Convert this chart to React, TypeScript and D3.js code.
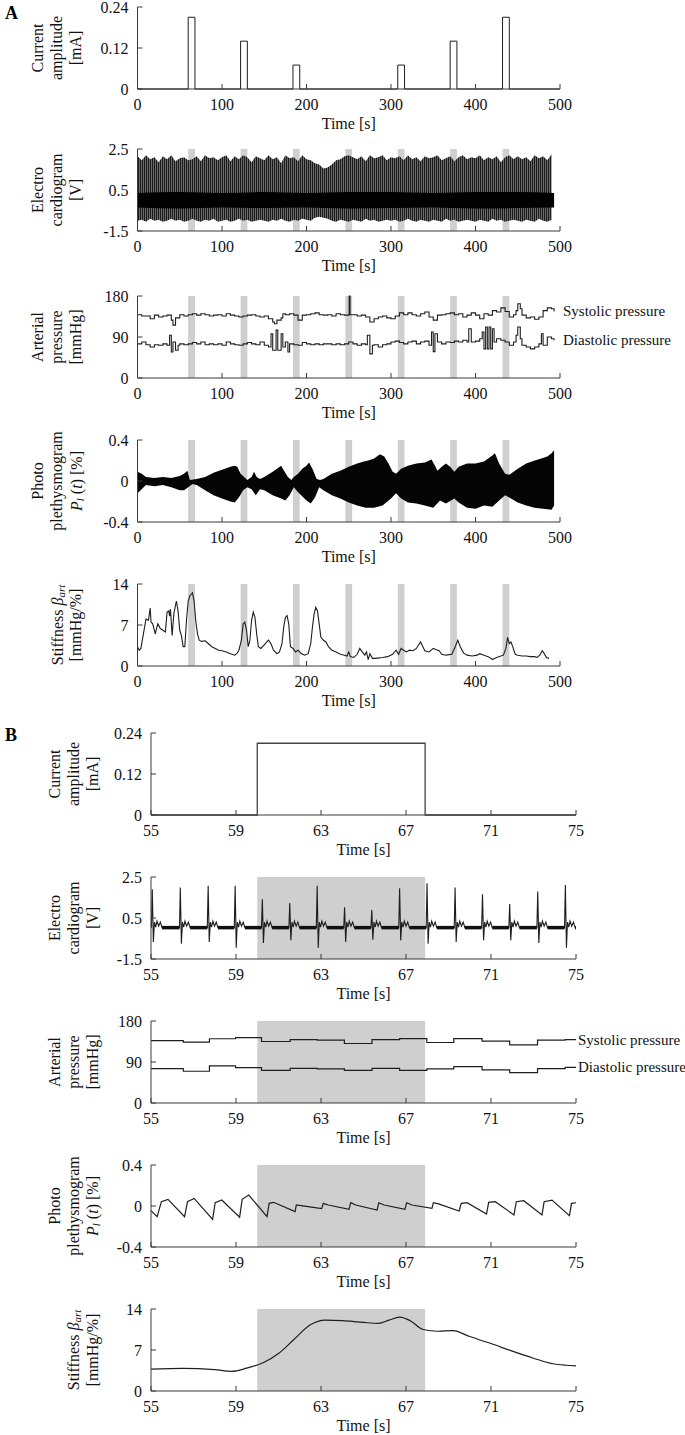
import React from "react";
import * as d3 from "d3";

// ---------- DATA ----------
// Panel A: stimulation protocol
const stimStart = [60, 122, 184, 246, 308, 370, 432];
const stimDur = 8;
const stimAmp = [0.21, 0.14, 0.07, 0, 0.07, 0.14, 0.21];

// Panel A: ECG envelope (5 s grid, 0..490 s)
const ecgEnvT = d3.range(0, 491, 5);
const ecgTop = [
  2.15, 1.95, 2.2, 2.0, 2.1, 1.85, 2.15, 2.0, 2.2, 1.9,
  2.05, 2.1, 1.95, 2.0, 2.15, 1.9, 2.2, 2.05, 2.1, 1.95,
  2.1, 2.2, 1.9, 2.15, 2.0, 2.2, 2.1, 1.85, 2.15, 2.05,
  1.95, 2.2, 2.0, 2.1, 1.8, 2.2, 2.05, 2.1, 1.9, 2.2,
  2.0, 1.95, 1.8, 1.75, 1.55, 1.6, 1.75, 1.95, 2.0, 2.15,
  2.2, 2.1, 2.0, 2.15, 1.9, 2.2, 2.05, 2.1, 2.2, 1.95,
  2.1, 2.05, 2.15, 1.95, 2.2, 2.0, 2.1, 1.9, 2.15, 2.05,
  2.1, 2.2, 1.95, 2.05, 2.15, 1.9, 2.1, 2.2, 2.0, 2.1,
  2.05, 2.2, 1.95, 2.1, 2.0, 2.15, 1.85, 2.1, 2.2, 2.0,
  2.15, 2.0, 2.1, 1.9, 2.2, 2.05, 2.15, 1.95, 2.25,
];
const ecgBot = [
  -1.0, -0.95, -1.05, -0.9, -1.0, -0.95, -1.05, -1.0, -0.9, -1.0,
  -0.95, -1.05, -1.0, -0.9, -1.0, -1.05, -0.95, -1.0, -0.9, -1.05,
  -1.0, -0.95, -1.05, -1.0, -0.9, -1.0, -0.95, -1.05, -1.0, -0.95,
  -1.0, -1.05, -0.95, -1.0, -0.9, -1.0, -1.05, -0.95, -1.0, -0.9,
  -0.95, -1.0, -0.85, -0.8, -0.85, -0.9, -1.0, -1.05, -0.95, -1.0,
  -1.05, -0.95, -1.0, -1.05, -0.9, -1.0, -0.95, -1.05, -1.0, -0.95,
  -1.0, -0.95, -1.05, -1.0, -0.9, -1.0, -1.05, -0.95, -1.0, -1.05,
  -0.95, -1.0, -1.05, -0.9, -1.0, -0.95, -1.05, -1.0, -0.95, -1.0,
  -1.05, -0.95, -1.0, -1.05, -0.9, -1.0, -0.95, -1.05, -1.0, -0.95,
  -1.0, -1.05, -0.95, -1.0, -1.05, -0.9, -1.0, -1.05, -0.95,
];
const ecgCoreT = [0, 50, 100, 150, 200, 250, 300, 350, 400, 450, 493];
const ecgCoreTop = [0.35, 0.4, 0.35, 0.4, 0.35, 0.4, 0.4, 0.35, 0.4, 0.4, 0.35];
const ecgCoreBot = [-0.35, -0.4, -0.35, -0.38, -0.35, -0.4, -0.38, -0.35, -0.4, -0.38, -0.35];

// Panel A: arterial pressure
const sysT = [0, 5, 10, 15, 20, 25, 30, 35, 40, 42, 45, 50, 55, 60, 65, 70, 75, 80, 85, 90, 95, 100, 105, 110, 115, 120, 125, 130, 135, 140, 145, 150, 155, 160, 162, 165, 170, 172, 175, 180, 185, 190, 195, 200, 205, 210, 215, 220, 225, 230, 235, 240, 245, 250, 250.5, 251.5, 255, 260, 265, 270, 275, 280, 285, 290, 295, 300, 305, 310, 315, 320, 325, 330, 335, 340, 345, 350, 355, 360, 365, 370, 375, 380, 385, 390, 395, 400, 405, 410, 415, 420, 425, 430, 435, 440, 445, 448, 450, 453, 455, 460, 465, 470, 475, 480, 485, 490, 493];
const sysV = [139, 136, 136, 130, 138, 134, 136, 138, 127, 116, 132, 139, 136, 139, 141, 138, 141, 139, 136, 138, 139, 136, 141, 138, 136, 134, 136, 138, 139, 136, 134, 136, 130, 123, 119, 127, 132, 141, 139, 141, 138, 127, 138, 139, 141, 143, 139, 138, 139, 136, 141, 139, 138, 139, 180, 139, 139, 136, 138, 134, 123, 130, 134, 136, 132, 130, 136, 143, 139, 143, 139, 136, 141, 145, 134, 127, 138, 139, 141, 143, 139, 141, 134, 138, 143, 138, 130, 141, 138, 148, 145, 154, 146, 134, 139, 148, 163, 152, 138, 132, 134, 129, 134, 148, 154, 152, 146];
const diaT = [0, 5, 10, 15, 20, 25, 30, 35, 38, 40, 42, 45, 48, 50, 55, 60, 65, 70, 75, 80, 85, 90, 95, 100, 105, 110, 115, 120, 125, 130, 135, 140, 145, 150, 155, 158, 160, 164, 166, 170, 172, 175, 178, 180, 185, 190, 195, 200, 205, 210, 215, 220, 225, 230, 235, 240, 245, 250, 255, 260, 265, 270, 272, 275, 278, 280, 285, 290, 295, 300, 305, 310, 315, 320, 325, 330, 335, 340, 345, 348, 350, 352, 355, 360, 365, 370, 375, 380, 385, 390, 392, 395, 400, 405, 408, 410, 412, 414, 416, 418, 420, 422, 425, 430, 435, 440, 445, 448, 450, 453, 455, 460, 465, 470, 475, 478, 480, 485, 490, 493];
const diaV = [75, 79, 73, 68, 73, 72, 75, 72, 94, 57, 79, 61, 72, 75, 73, 75, 78, 75, 79, 73, 75, 73, 75, 72, 79, 75, 73, 72, 75, 78, 75, 73, 79, 72, 68, 97, 61, 105, 61, 97, 68, 79, 57, 75, 73, 72, 78, 75, 73, 75, 73, 75, 75, 73, 75, 73, 75, 79, 75, 72, 75, 73, 94, 53, 72, 73, 68, 73, 75, 79, 81, 78, 75, 79, 81, 75, 79, 81, 72, 101, 58, 97, 79, 75, 79, 78, 81, 79, 83, 79, 108, 79, 81, 86, 101, 64, 112, 64, 112, 64, 108, 79, 86, 83, 79, 72, 79, 94, 112, 86, 72, 68, 64, 68, 75, 97, 72, 90, 86, 83];

// Panel A: photoplethysmogram envelope
const ppgTopT = [0, 5, 10, 20, 30, 40, 50, 55, 59, 62, 70, 80, 90, 100, 110, 115, 118, 122, 130, 135, 138, 141, 145, 150, 160, 165, 170, 172, 178, 182, 185, 190, 195, 200, 203, 207, 212, 216, 220, 230, 240, 250, 260, 268, 273, 280, 287, 292, 297, 302, 306, 312, 320, 330, 340, 348, 352, 355, 360, 365, 370, 375, 380, 390, 400, 410, 420, 423, 428, 435, 440, 445, 450, 460, 470, 478, 485, 490, 493];
const ppgTopV = [0.09, 0.07, 0.04, 0.03, 0.04, 0.03, 0.05, 0.07, 0.1, 0.01, 0.02, 0.04, 0.08, 0.11, 0.14, 0.15, 0.14, 0.07, 0.01, 0.04, 0.09, 0.04, 0.02, 0.04, 0.09, 0.12, 0.15, 0.12, 0.04, 0.01, 0.04, 0.07, 0.12, 0.15, 0.18, 0.12, 0.02, 0.01, 0.02, 0.07, 0.1, 0.14, 0.17, 0.19, 0.2, 0.22, 0.26, 0.24, 0.17, 0.09, 0.07, 0.12, 0.15, 0.17, 0.18, 0.21, 0.15, 0.1, 0.14, 0.17, 0.14, 0.09, 0.14, 0.17, 0.17, 0.19, 0.25, 0.27, 0.17, 0.07, 0.06, 0.09, 0.12, 0.17, 0.2, 0.22, 0.24, 0.27, 0.3];
const ppgBotT = [0, 5, 10, 20, 30, 40, 50, 55, 60, 65, 70, 80, 90, 100, 110, 115, 120, 125, 130, 135, 140, 145, 150, 160, 170, 175, 180, 185, 190, 200, 205, 210, 215, 220, 230, 240, 250, 260, 270, 280, 290, 300, 306, 312, 320, 330, 340, 350, 358, 365, 375, 380, 390, 400, 410, 420, 428, 435, 440, 450, 460, 470, 480, 490, 493];
const ppgBotV = [-0.12, -0.08, -0.04, -0.05, -0.04, -0.06, -0.09, -0.09, -0.06, -0.03, -0.04, -0.09, -0.14, -0.17, -0.2, -0.21, -0.16, -0.09, -0.06, -0.08, -0.14, -0.08, -0.09, -0.14, -0.17, -0.19, -0.14, -0.06, -0.11, -0.19, -0.22, -0.16, -0.06, -0.09, -0.14, -0.17, -0.21, -0.24, -0.26, -0.26, -0.24, -0.17, -0.12, -0.17, -0.21, -0.22, -0.24, -0.26, -0.19, -0.22, -0.17, -0.21, -0.26, -0.27, -0.24, -0.25, -0.19, -0.14, -0.16, -0.21, -0.24, -0.26, -0.27, -0.28, -0.24];

// Panel A: stiffness
const stiffT = [0, 2, 4, 7, 10, 13, 15, 16, 18, 21, 24, 27, 30, 33, 35, 37, 38, 39, 41, 43, 46, 48, 50, 52, 54, 56, 58, 60, 62, 64, 65, 67, 69, 71, 73, 76, 80, 84, 88, 92, 96, 100, 105, 110, 115, 118, 120, 123, 125, 127, 129, 131, 133, 135, 137, 139, 141, 143, 146, 150, 153, 155, 158, 161, 165, 168, 171, 173, 175, 177, 179, 181, 184, 187, 190, 194, 198, 202, 205, 207, 209, 211, 213, 215, 217, 220, 223, 226, 230, 235, 240, 245, 248, 250, 252, 256, 260, 263, 266, 269, 271, 273, 275, 278, 282, 290, 296, 302, 306, 309, 312, 315, 318, 322, 326, 330, 335, 337, 340, 345, 350, 353, 357, 360, 365, 372, 376, 379, 382, 386, 390, 396, 402, 405, 410, 415, 420, 425, 430, 433, 436, 438, 440, 442, 444, 447, 450, 455, 460, 465, 470, 473, 476, 479, 481, 484, 487];
const stiffV = [3.3, 2.7, 3.0, 5.5, 8.0, 7.8, 9.9, 7.5, 7.2, 5.5, 7.2, 6.4, 6.1, 5.8, 9.2, 9.4, 8.5, 9.7, 5.2, 8.9, 11.1, 9.4, 6.1, 5.2, 3.3, 3.3, 7.8, 11.1, 12.0, 12.3, 12.5, 11.1, 7.6, 5.5, 4.4, 4.2, 4.3, 3.8, 3.3, 3.0, 2.7, 2.6, 2.4, 2.1, 1.85, 2.2, 2.7, 4.4, 7.2, 7.5, 6.1, 3.3, 4.4, 7.8, 9.2, 8.3, 5.5, 3.3, 3.0, 3.6, 4.1, 4.4, 3.8, 2.7, 2.1, 2.4, 3.8, 6.6, 8.3, 8.6, 7.2, 3.3, 3.0, 2.4, 2.7, 2.1, 1.85, 2.1, 3.8, 6.6, 8.9, 10.0, 9.4, 7.2, 4.9, 4.4, 4.1, 3.3, 2.7, 2.4, 2.0, 1.85, 1.7, 2.4, 1.6, 1.46, 2.0, 3.0, 2.4, 1.85, 2.4, 1.1, 2.1, 1.3, 1.3, 1.46, 1.6, 2.0, 2.7, 2.0, 3.0, 2.7, 2.4, 2.7, 2.6, 3.0, 4.1, 3.5, 2.6, 2.4, 3.0, 2.8, 2.6, 2.0, 1.85, 2.0, 3.3, 4.4, 3.3, 2.2, 1.85, 1.7, 1.85, 2.1, 1.85, 1.6, 1.1, 1.46, 1.7, 1.85, 3.0, 4.9, 3.8, 4.1, 3.3, 2.0, 1.85, 1.7, 1.7, 1.6, 1.6, 1.46, 1.85, 2.6, 2.2, 1.46, 1.3];

// Panel B: one stimulation (55-75 s)
const bStimStart = 60.0;
const bStimEnd = 67.9;
const bStimAmp = 0.21;

// Panel B: ECG beats
const beatT = [55.06, 56.38, 57.69, 58.96, 60.24, 61.53, 62.82, 64.11, 65.39, 66.7, 67.99, 69.31, 70.6, 71.88, 73.2, 74.5];
const beatR = [1.9, 1.99, 2.07, 2.07, 1.42, 1.23, 2.07, 1.02, 0.89, 1.95, 2.2, 1.99, 1.66, 1.18, 1.79, 2.11];
const beatS = [-0.67, -0.75, -0.67, -0.95, -0.72, -0.59, -0.95, -0.67, -0.56, -0.59, -0.75, -0.67, -0.59, -0.59, -0.72, -0.95];

// Panel B: arterial pressure (beat-to-beat)
const bpStepT = [55, 56.52, 57.75, 58.98, 60.2, 61.55, 62.82, 64.1, 65.4, 66.7, 67.98, 69.25, 70.58, 71.88, 73.19, 74.49, 75];
const bpSys = [137, 133.5, 141, 143.7, 135, 139.3, 138, 130.6, 139.3, 141.5, 132.8, 141.5, 135.7, 127.7, 137.9, 139, 139];
const bpDia = [75.5, 69.7, 81.3, 77.6, 71.8, 76.2, 74.7, 71.8, 76.2, 71.8, 74.7, 79.8, 72.6, 66.8, 75.5, 78.4, 78.4];

// Panel B: photoplethysmogram
const bPpgT = [55.0, 55.29, 55.49, 55.8, 56.58, 56.72, 57.03, 57.9, 58.02, 58.33, 59.17, 59.29, 59.6, 60.46, 60.56, 60.77, 61.78, 61.84, 62.06, 63.03, 63.11, 63.34, 64.32, 64.4, 64.63, 65.64, 65.72, 65.97, 66.95, 67.03, 67.28, 68.22, 68.29, 68.53, 69.5, 69.6, 69.87, 70.79, 70.89, 71.2, 72.08, 72.19, 72.54, 73.4, 73.5, 73.87, 74.69, 74.79, 75.0];
const bPpgV = [-0.045, -0.104, 0.042, 0.065, -0.104, 0.042, 0.074, -0.13, 0.032, 0.058, -0.11, 0.065, 0.107, -0.104, 0.026, 0.036, -0.055, 0.01, 0.003, -0.026, 0.026, 0.01, -0.032, 0.032, 0.01, -0.039, 0.032, 0.01, -0.032, 0.032, 0.01, -0.023, 0.032, 0.02, -0.049, 0.026, 0.032, -0.078, 0.036, 0.042, -0.087, 0.042, 0.052, -0.087, 0.042, 0.058, -0.094, 0.026, 0.032];

// Panel B: stiffness
const bStiffT = [55, 56.5, 58, 58.8, 59.5, 60.3, 61, 61.7, 62.5, 63.2, 64, 65, 65.7, 66.2, 66.7, 67.2, 67.8, 68.5, 69.2, 70, 71, 72, 73, 73.9, 74.5, 75];
const bStiffV = [3.75, 3.86, 3.64, 3.36, 3.9, 4.87, 6.4, 8.7, 11.3, 12.1, 12.0, 11.7, 11.55, 12.1, 12.6, 12.0, 10.5, 10.2, 10.3, 9.3, 8.1, 6.8, 5.6, 4.65, 4.4, 4.3];

// Ticks
const aXTicks = [0, 100, 200, 300, 400, 500];
const bXTicks = [55, 59, 63, 67, 71, 75];
const curTicks = [0, 0.12, 0.24];
const curTickLabels = ["0", "0.12", "0.24"];
const ecgTicks = [-1.5, 0.5, 2.5];
const ecgTickLabels = ["-1.5", "0.5", "2.5"];
const bpTicks = [0, 90, 180];
const bpTickLabels = ["0", "90", "180"];
const ppgTicks = [-0.4, 0, 0.4];
const ppgTickLabels = ["-0.4", "0", "0.4"];
const stTicks = [0, 7, 14];
const stTickLabels = ["0", "7", "14"];

// ---------- LAYOUT ----------
const FONT = "'Liberation Serif', 'Times New Roman', serif";
const W = 685;
const H = 1435;
const PH = 82;
const aBottoms = [89, 231, 378, 522, 666];
const bBottoms = [815, 959, 1103, 1247, 1391];
const AX = [137.5, 560];
const BX = [151, 576];
const LINE = "#1e1e1e";
const AXIS = "#3a3a3a";
const SHADE = "#cfcfcf";

function Axes({ x, y, bottom, xTicks, yTicks, yLabels, left, right }) {
  const top = bottom - PH;
  return (
    <g fontFamily={FONT} fontSize={16} fill="#111">
      <line x1={left} x2={left} y1={top} y2={bottom} stroke={AXIS} strokeWidth={1} />
      <line x1={left} x2={right} y1={bottom} y2={bottom} stroke={AXIS} strokeWidth={1} />
      {xTicks.map((t) => (
        <g key={"x" + t}>
          <line x1={x(t)} x2={x(t)} y1={bottom} y2={bottom - 5} stroke={AXIS} />
          <text x={x(t)} y={bottom + 15} textAnchor="middle" dominantBaseline="central">{t}</text>
        </g>
      ))}
      {yTicks.map((t, i) => (
        <g key={"y" + t}>
          <line x1={left} x2={left + 5} y1={y(t)} y2={y(t)} stroke={AXIS} />
          <text x={left - 9} y={y(t)} textAnchor="end" dominantBaseline="central">{yLabels[i]}</text>
        </g>
      ))}
      <text x={(left + right) / 2} y={bottom + 34} textAnchor="middle" dominantBaseline="central">Time [s]</text>
    </g>
  );
}

function YTitle({ left, bottom, lines, offsets }) {
  const cy = bottom - PH / 2;
  return (
    <g fontFamily={FONT} fontSize={16} fill="#111">
      {lines.map((ln, i) => (
        <text key={i} transform={`translate(${left + offsets[i]},${cy}) rotate(-90)`} textAnchor="middle" dominantBaseline="central">
          {ln}
        </text>
      ))}
    </g>
  );
}

const ppgLabel = (
  <>
    <tspan fontStyle="italic">P</tspan>
    <tspan fontStyle="italic" fontSize={11} dy={4}>l</tspan>
    <tspan dy={-4}> (</tspan>
    <tspan fontStyle="italic">t</tspan>
    <tspan>) [%]</tspan>
  </>
);
const stiffLabel = (
  <>
    <tspan>Stiffness </tspan>
    <tspan fontStyle="italic">β</tspan>
    <tspan fontStyle="italic" fontSize={11} dy={4}>art</tspan>
  </>
);

export default function App() {
  const xa = d3.scaleLinear().domain([0, 500]).range(AX);
  const xb = d3.scaleLinear().domain([55, 75]).range(BX);
  const yS = (dom, b) => d3.scaleLinear().domain(dom).range([b, b - PH]);

  const aOff = [-100, -81, -62];
  const bOff = [-97, -78, -59];

  const yA1 = yS([0, 0.24], aBottoms[0]);
  const yA2 = yS([-1.5, 2.5], aBottoms[1]);
  const yA3 = yS([0, 180], aBottoms[2]);
  const yA4 = yS([-0.4, 0.4], aBottoms[3]);
  const yA5 = yS([0, 14], aBottoms[4]);
  const yB1 = yS([0, 0.24], bBottoms[0]);
  const yB2 = yS([-1.5, 2.5], bBottoms[1]);
  const yB3 = yS([0, 180], bBottoms[2]);
  const yB4 = yS([-0.4, 0.4], bBottoms[3]);
  const yB5 = yS([0, 14], bBottoms[4]);

  // A1 stimulus step path
  const a1pts: [number, number][] = [[0, 0]];
  stimStart.forEach((s, i) => {
    if (stimAmp[i] > 0) {
      a1pts.push([s, 0], [s, stimAmp[i]], [s + stimDur, stimAmp[i]], [s + stimDur, 0]);
    }
  });
  a1pts.push([500, 0]);
  const a1Line = d3.line<[number, number]>().x((d) => xa(d[0])).y((d) => yA1(d[1]))(a1pts);

  // A2 ECG envelope
  const ecgEnv = ecgEnvT.map((t, i) => ({ t, hi: ecgTop[i], lo: ecgBot[i] }));
  const ecgArea = d3.area<any>().x((d) => xa(d.t)).y0((d) => yA2(d.lo)).y1((d) => yA2(d.hi))(ecgEnv);
  const core = ecgCoreT.map((t, i) => ({ t, hi: ecgCoreTop[i], lo: ecgCoreBot[i] }));
  const coreArea = d3.area<any>().x((d) => xa(d.t)).y0((d) => yA2(d.lo)).y1((d) => yA2(d.hi)).curve(d3.curveMonotoneX)(core);

  // A3 pressures
  const stepLineA = d3.line<any>().x((d) => xa(d[0])).y((d) => yA3(d[1])).curve(d3.curveStepAfter);
  const sysPath = stepLineA(sysT.map((t, i) => [t, sysV[i]]));
  const diaPath = stepLineA(diaT.map((t, i) => [t, diaV[i]]));

  // A4 PPG envelope polygon
  const ppgUp = ppgTopT.map((t, i) => [xa(t), yA4(ppgTopV[i])]);
  const ppgLo = ppgBotT.map((t, i) => [xa(t), yA4(ppgBotV[i])]).reverse();
  const ppgPoly = "M" + ppgUp.concat(ppgLo).map((p) => p.join(",")).join("L") + "Z";

  // A5 stiffness
  const stiffPath = d3.line<any>().x((d) => xa(d[0])).y((d) => yA5(d[1]))(stiffT.map((t, i) => [t, stiffV[i]]));

  // B1 stimulus
  const b1Path = d3.line<any>().x((d) => xb(d[0])).y((d) => yB1(d[1]))([
    [55, 0], [bStimStart, 0], [bStimStart, bStimAmp], [bStimEnd, bStimAmp], [bStimEnd, 0], [75, 0],
  ]);

  // B2 ECG beats
  const beatPts: [number, number][] = [];
  const basePts: [number, number][][] = [];
  beatT.forEach((rt, i) => {
    beatPts.push(
      [rt - 0.04, 0.05], [rt, beatR[i]], [rt + 0.05, beatS[i]], [rt + 0.1, 0.3],
      [rt + 0.16, 0.05], [rt + 0.22, 0.35], [rt + 0.3, 0.1], [rt + 0.38, 0.3], [rt + 0.46, 0.03]
    );
    const next = i < beatT.length - 1 ? beatT[i + 1] - 0.04 : 75;
    beatPts.push([next, 0.03]);
    basePts.push([[rt + 0.46, 0.03], [next, 0.03]]);
  });
  const lineB2 = d3.line<[number, number]>().x((d) => xb(d[0])).y((d) => yB2(d[1]));
  const b2Path = lineB2([[55, 0.05] as [number, number]].concat(beatPts));

  // B3 steps
  const stepLineB = d3.line<any>().x((d) => xb(d[0])).y((d) => yB3(d[1])).curve(d3.curveStepAfter);
  const bSysPath = stepLineB(bpStepT.map((t, i) => [t, bpSys[i]]));
  const bDiaPath = stepLineB(bpStepT.map((t, i) => [t, bpDia[i]]));

  // B4 PPG
  const b4Path = d3.line<any>().x((d) => xb(d[0])).y((d) => yB4(d[1]))(bPpgT.map((t, i) => [t, bPpgV[i]]));

  // B5 stiffness
  const b5Path = d3.line<any>().x((d) => xb(d[0])).y((d) => yB5(d[1])).curve(d3.curveMonotoneX)(bStiffT.map((t, i) => [t, bStiffV[i]]));

  const aBands = (b) =>
    stimStart.map((s) => (
      <rect key={s} x={xa(s)} width={xa(s + stimDur) - xa(s)} y={b - PH} height={PH} fill={SHADE} />
    ));
  const bBand = (b) => (
    <rect x={xb(bStimStart)} width={xb(bStimEnd) - xb(bStimStart)} y={b - PH} height={PH} fill={SHADE} />
  );

  return (
    <svg width={W} height={H} style={{ position: "absolute", left: 0, top: 0, background: "#fff" }}>
      <defs>
        <pattern id="ecgHatch" x={0} y={0} width={2} height={6} patternUnits="userSpaceOnUse">
          <rect width={2} height={6} fill="#6a6a6a" />
          <rect width={1} height={6} fill="#1a1a1a" />
        </pattern>
      </defs>
      <rect width={W} height={H} fill="#fff" />
      <text x={5} y={13} fontFamily={FONT} fontWeight="bold" fontSize={18} dominantBaseline="central">A</text>
      <text x={5} y={735} fontFamily={FONT} fontWeight="bold" fontSize={18} dominantBaseline="central">B</text>

      {/* A1 */}
      <path d={a1Line} fill="none" stroke={LINE} strokeWidth={1} />
      <Axes x={xa} y={yA1} bottom={aBottoms[0]} xTicks={aXTicks} yTicks={curTicks} yLabels={curTickLabels} left={AX[0]} right={AX[1]} />
      <YTitle left={AX[0]} bottom={aBottoms[0]} lines={["Current", "amplitude", "[mA]"]} offsets={aOff} />

      {/* A2 */}
      {aBands(aBottoms[1])}
      <path d={ecgArea} fill="url(#ecgHatch)" />
      <path d={coreArea} fill="#000" />
      <Axes x={xa} y={yA2} bottom={aBottoms[1]} xTicks={aXTicks} yTicks={ecgTicks} yLabels={ecgTickLabels} left={AX[0]} right={AX[1]} />
      <YTitle left={AX[0]} bottom={aBottoms[1]} lines={["Electro", "cardiogram", "[V]"]} offsets={aOff} />

      {/* A3 */}
      {aBands(aBottoms[2])}
      <path d={sysPath} fill="none" stroke={LINE} strokeWidth={1.1} />
      <path d={diaPath} fill="none" stroke={LINE} strokeWidth={1.1} />
      <Axes x={xa} y={yA3} bottom={aBottoms[2]} xTicks={aXTicks} yTicks={bpTicks} yLabels={bpTickLabels} left={AX[0]} right={AX[1]} />
      <YTitle left={AX[0]} bottom={aBottoms[2]} lines={["Arterial", "pressure", "[mmHg]"]} offsets={aOff} />
      <g fontFamily={FONT} fontSize={15} fill="#111">
        <text x={AX[1] + 3} y={yA3(sysV[sysV.length - 1])} dominantBaseline="central">Systolic pressure</text>
        <text x={AX[1] + 3} y={yA3(diaV[diaV.length - 1])} dominantBaseline="central">Diastolic pressure</text>
      </g>

      {/* A4 */}
      {aBands(aBottoms[3])}
      <path d={ppgPoly} fill="#050505" />
      <Axes x={xa} y={yA4} bottom={aBottoms[3]} xTicks={aXTicks} yTicks={ppgTicks} yLabels={ppgTickLabels} left={AX[0]} right={AX[1]} />
      <YTitle left={AX[0]} bottom={aBottoms[3]} lines={["Photo", "plethysmogram", ppgLabel]} offsets={aOff} />

      {/* A5 */}
      {aBands(aBottoms[4])}
      <path d={stiffPath} fill="none" stroke={LINE} strokeWidth={1.1} />
      <Axes x={xa} y={yA5} bottom={aBottoms[4]} xTicks={aXTicks} yTicks={stTicks} yLabels={stTickLabels} left={AX[0]} right={AX[1]} />
      <YTitle left={AX[0]} bottom={aBottoms[4]} lines={[stiffLabel, "[mmHg/%]"]} offsets={[aOff[1], aOff[2]]} />

      {/* B1 */}
      <path d={b1Path} fill="none" stroke="#444" strokeWidth={1.3} />
      <Axes x={xb} y={yB1} bottom={bBottoms[0]} xTicks={bXTicks} yTicks={curTicks} yLabels={curTickLabels} left={BX[0]} right={BX[1]} />
      <YTitle left={BX[0]} bottom={bBottoms[0]} lines={["Current", "amplitude", "[mA]"]} offsets={bOff} />

      {/* B2 */}
      {bBand(bBottoms[1])}
      <path d={b2Path} fill="none" stroke={LINE} strokeWidth={1.1} />
      {basePts.map((seg, i) => (
        <path key={i} d={lineB2(seg as any)} fill="none" stroke="#111" strokeWidth={3.5} />
      ))}
      <Axes x={xb} y={yB2} bottom={bBottoms[1]} xTicks={bXTicks} yTicks={ecgTicks} yLabels={ecgTickLabels} left={BX[0]} right={BX[1]} />
      <YTitle left={BX[0]} bottom={bBottoms[1]} lines={["Electro", "cardiogram", "[V]"]} offsets={bOff} />

      {/* B3 */}
      {bBand(bBottoms[2])}
      <path d={bSysPath} fill="none" stroke={LINE} strokeWidth={1.2} />
      <path d={bDiaPath} fill="none" stroke={LINE} strokeWidth={1.2} />
      <Axes x={xb} y={yB3} bottom={bBottoms[2]} xTicks={bXTicks} yTicks={bpTicks} yLabels={bpTickLabels} left={BX[0]} right={BX[1]} />
      <YTitle left={BX[0]} bottom={bBottoms[2]} lines={["Arterial", "pressure", "[mmHg]"]} offsets={bOff} />
      <g fontFamily={FONT} fontSize={15} fill="#111">
        <text x={BX[1] + 2} y={yB3(bpSys[bpSys.length - 1])} dominantBaseline="central">Systolic pressure</text>
        <text x={BX[1] + 2} y={yB3(bpDia[bpDia.length - 1])} dominantBaseline="central">Diastolic pressure</text>
      </g>

      {/* B4 */}
      {bBand(bBottoms[3])}
      <path d={b4Path} fill="none" stroke={LINE} strokeWidth={1.2} />
      <Axes x={xb} y={yB4} bottom={bBottoms[3]} xTicks={bXTicks} yTicks={ppgTicks} yLabels={ppgTickLabels} left={BX[0]} right={BX[1]} />
      <YTitle left={BX[0]} bottom={bBottoms[3]} lines={["Photo", "plethysmogram", ppgLabel]} offsets={bOff} />

      {/* B5 */}
      {bBand(bBottoms[4])}
      <path d={b5Path} fill="none" stroke={LINE} strokeWidth={1.2} />
      <Axes x={xb} y={yB5} bottom={bBottoms[4]} xTicks={bXTicks} yTicks={stTicks} yLabels={stTickLabels} left={BX[0]} right={BX[1]} />
      <YTitle left={BX[0]} bottom={bBottoms[4]} lines={[stiffLabel, "[mmHg/%]"]} offsets={[bOff[1], bOff[2]]} />
    </svg>
  );
}
